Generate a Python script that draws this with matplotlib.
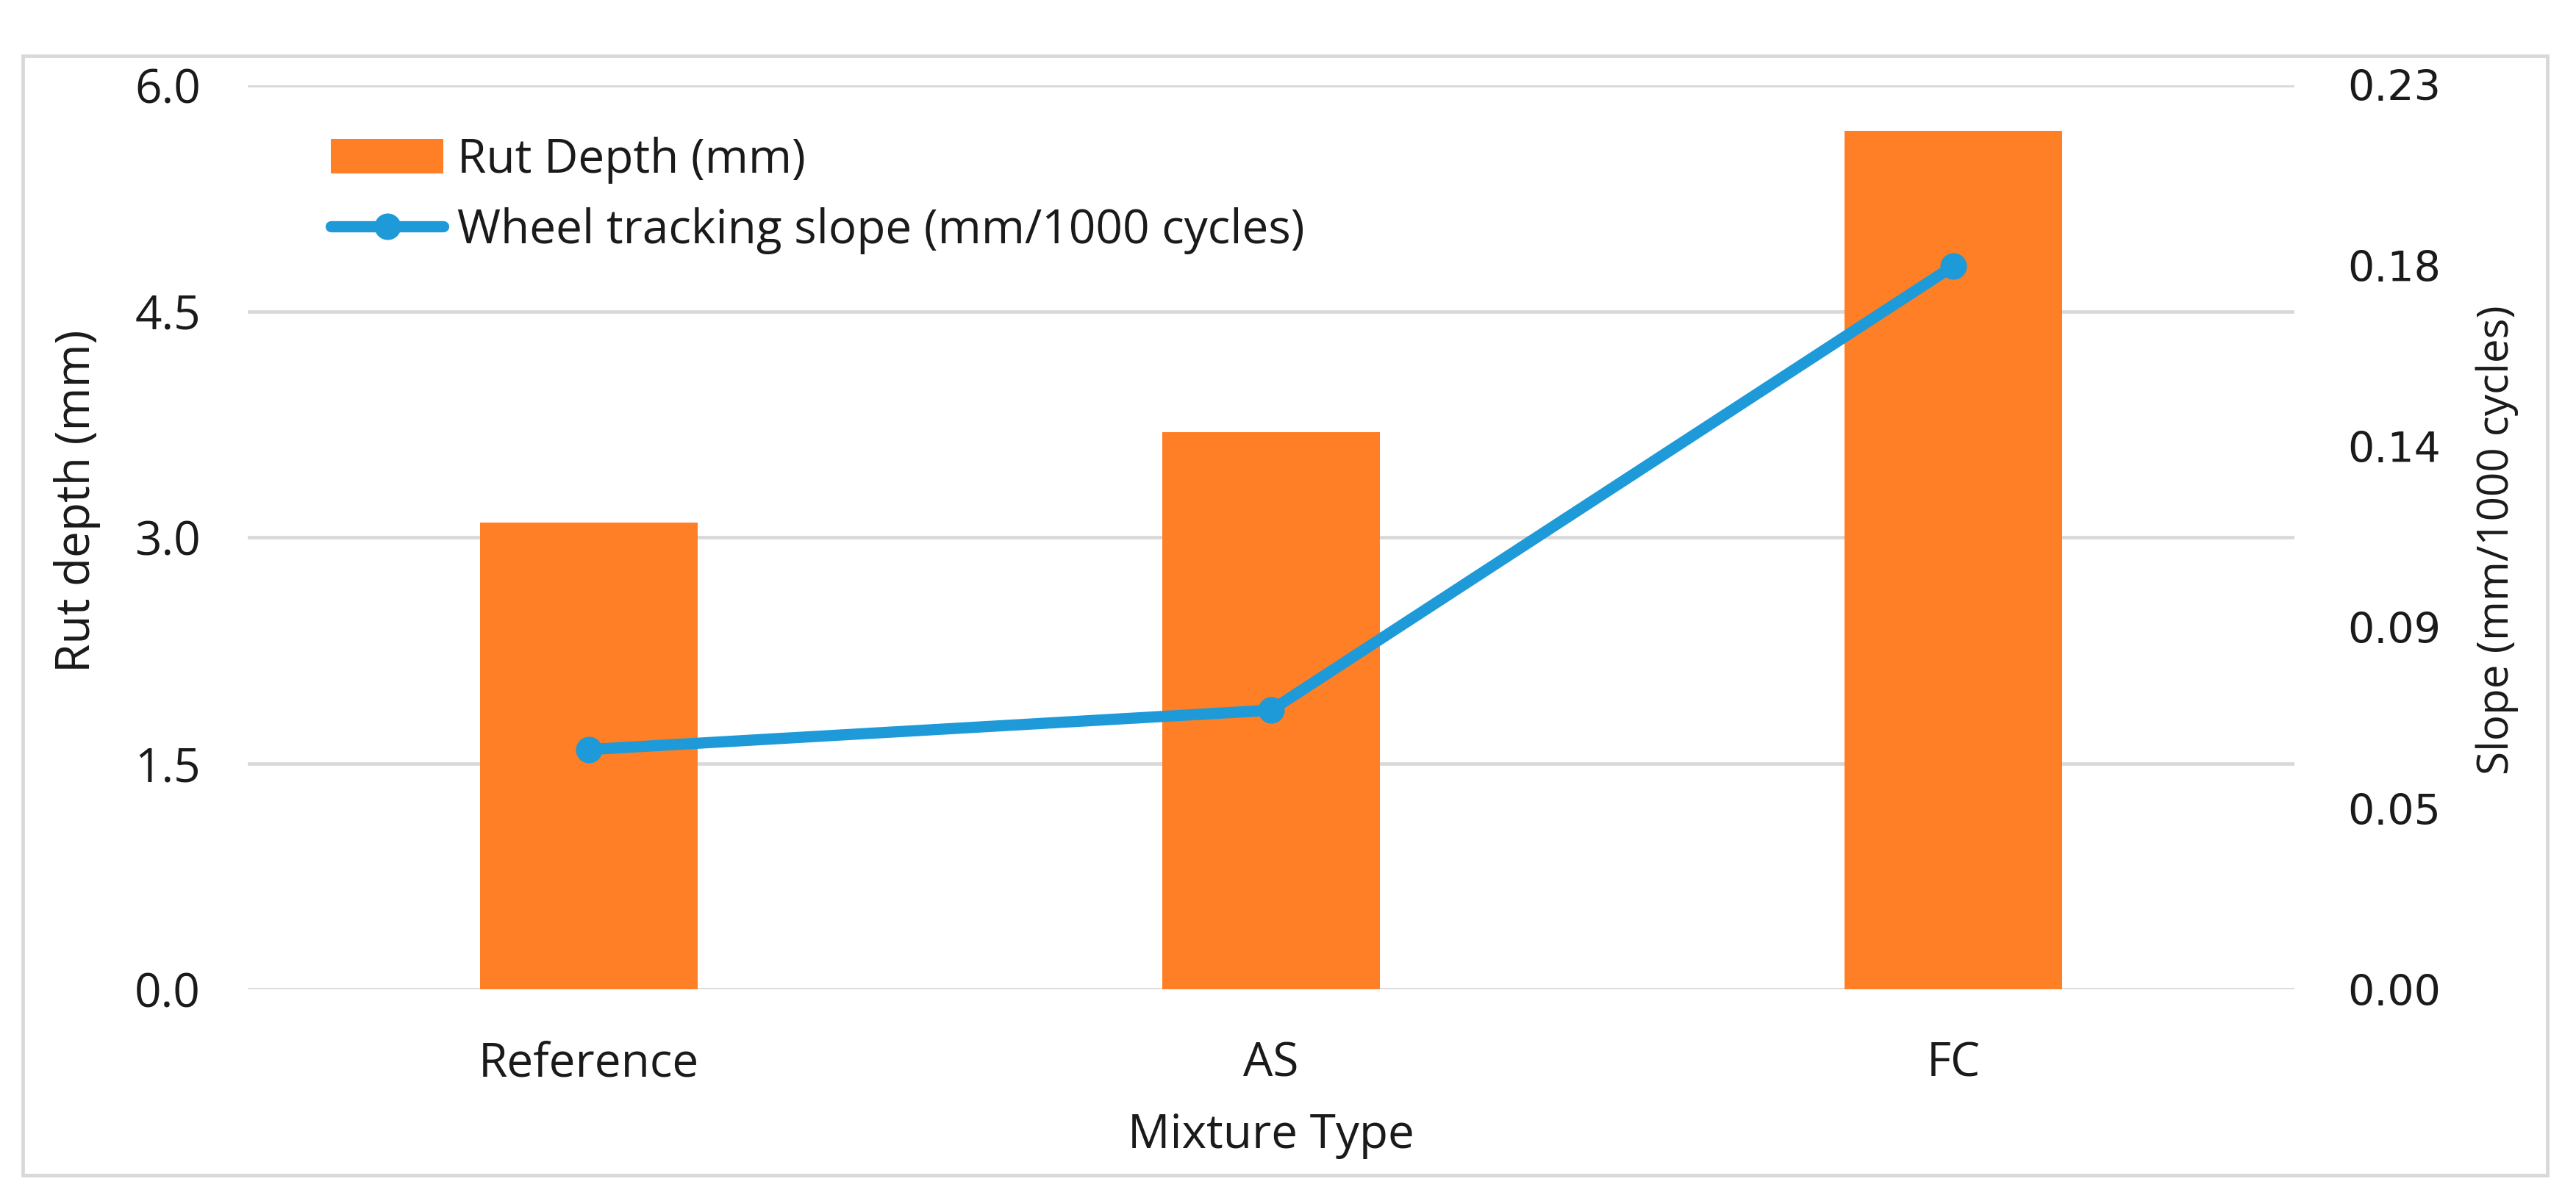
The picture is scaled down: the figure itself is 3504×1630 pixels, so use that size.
import matplotlib
matplotlib.use("Agg")
import matplotlib.pyplot as plt
from matplotlib.patches import Rectangle, Patch
from matplotlib.lines import Line2D
import numpy as np

categories = ["Reference", "AS", "FC"]
rut_depth = [3.1, 3.7, 5.7]
slope = [0.061, 0.071, 0.184]
left_ticks = [0.0, 1.5, 3.0, 4.5, 6.0]
left_tick_labels = ["0.0", "1.5", "3.0", "4.5", "6.0"]
right_ticks = [0.0, 0.046, 0.092, 0.138, 0.184, 0.23]
right_tick_labels = ["0.00", "0.05", "0.09", "0.14", "0.18", "0.23"]

W, H = 3504, 1630
DPI = 100
fig = plt.figure(figsize=(W / DPI, H / DPI), dpi=DPI)
plt.rcParams['font.family'] = ['Open Sans', 'DejaVu Sans']

ORANGE = "#FE7F25"
BLUE = "#1E9AD8"
GRID = "#D9D9D9"
TXT = "#1a1a1a"
FS = 46

ax = fig.add_axes([337 / W, 1 - 1346 / H, (3121 - 337) / W, (1346 - 116) / H])
ax2 = ax.twinx()
ax.set_zorder(1)
ax2.set_zorder(2)
ax.patch.set_visible(False)

x = np.arange(len(categories))
ax.bar(x, rut_depth, width=0.318, color=ORANGE, zorder=3)
ax.set_xlim(-0.5, 2.5)
ax.set_ylim(0, 6.0)
ax.set_yticks(left_ticks)
ax.set_yticklabels(left_tick_labels)
ax.yaxis.grid(True, color=GRID, lw=3.4, zorder=0)
ax.set_axisbelow(True)
ax.set_xticks(x)
ax.set_xticklabels(categories)
ax.tick_params(axis='y', length=0, pad=46, labelsize=FS, labelcolor=TXT)
ax.tick_params(axis='x', length=0, pad=50, labelsize=FS, labelcolor=TXT)

ax2.plot(x, slope, color=BLUE, lw=11, marker='o', ms=25, solid_capstyle='round', zorder=4)
ax2.set_ylim(0, 0.23)
ax2.set_yticks(right_ticks)
ax2.set_yticklabels(right_tick_labels, fontfamily='DejaVu Sans')
ax2.tick_params(axis='y', length=0, pad=52, labelsize=FS - 5, labelcolor=TXT)

for a in (ax, ax2):
    for s in a.spines.values():
        s.set_visible(False)

fig.text(105 / W, 1 - 682 / H, "Rut depth (mm)", rotation=90, ha='center', va='center',
         fontsize=FS, color=TXT)
fig.text(3397 / W, 1 - 735 / H, "Slope (mm/1000 cycles)", rotation=90, ha='center', va='center',
         fontsize=FS - 4, color=TXT)
fig.text(1729 / W, 1 - 1545 / H, "Mixture Type", ha='center', va='center',
         fontsize=FS, color=TXT)

handles = [Patch(facecolor=ORANGE, edgecolor='none'),
           Line2D([0], [0], color=BLUE, lw=11, marker='o', ms=25, solid_capstyle='round')]
labels = ["Rut Depth (mm)", "Wheel tracking slope (mm/1000 cycles)"]
fig.legend(handles, labels, loc='upper left', bbox_to_anchor=(450 / W, 1 - 186 / H),
           frameon=False, fontsize=FS, handlelength=2.4, handleheight=0.75,
           handletextpad=0.3, labelspacing=0.5, borderpad=0, borderaxespad=0,
           labelcolor=TXT)

fig.add_artist(Rectangle((31 / W, 1 - 1599 / H), (3465 - 31) / W, (1599 - 76) / H,
                         transform=fig.transFigure, fill=False, edgecolor=GRID, lw=3.5))

fig.savefig("out.png", dpi=DPI, facecolor='white')
